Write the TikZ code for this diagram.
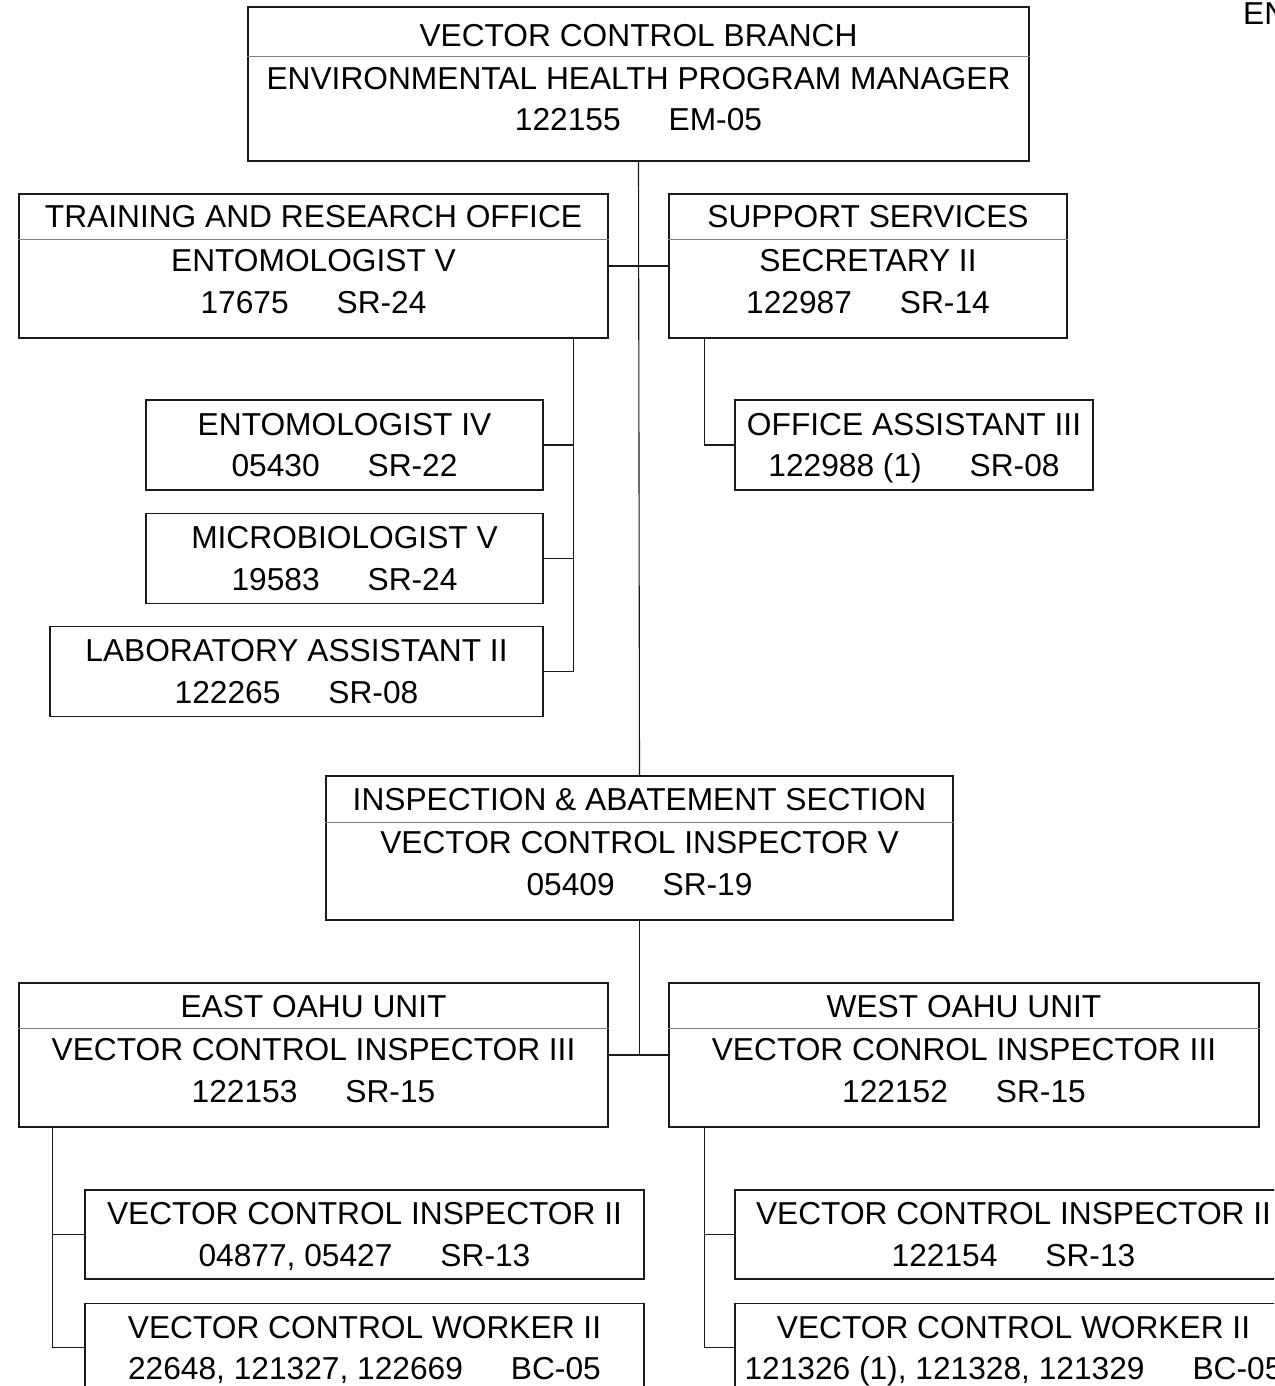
\documentclass[tikz,border=0pt]{standalone}
\usepackage{fontspec}
\setmainfont{Liberation Sans}
\usepackage{xcolor}
\definecolor{vcline}{HTML}{1A1A1A}
\definecolor{vcrule}{HTML}{808080}
\usetikzlibrary{positioning,calc}
\tikzset{
  vcbox/.style={draw=vcline,line width=1.1pt,inner sep=0pt},
  vctext/.style={font=\fontsize{31.7}{41.5}\selectfont,align=center,anchor=base,inner sep=0pt},
  vclink/.style={draw=vcline,line width=1.1pt},
  vcsplit/.style={draw=vcrule,line width=1.1pt},
}
\newcommand{\vcgap}{\hspace{48pt}}

\begin{document}
\begin{tikzpicture}[x=1pt,y=-1pt]
\useasboundingbox (0,0) rectangle (1274,1386);
\clip (0,0) rectangle (1274,1386);
% branch head
\node[vcbox,minimum width=781pt,minimum height=154pt] (vcb) at (638.5,84) {};
\draw[vcsplit] ($(vcb.north west)+(0,50)$) -- ($(vcb.north east)+(0,50)$);
\node[vctext] (vcbT) at ($(vcb.north)+(0,40)$) {VECTOR CONTROL BRANCH};
\node[vctext] (vcbB) at ($(vcb.north)+(0,124.5)$) {ENVIRONMENTAL HEALTH PROGRAM MANAGER\\122155\vcgap EM-05};
\node[vctext,anchor=base west] (edge) at (1243,25) {EN};

% training and research
\node[vcbox,minimum width=589pt,minimum height=144pt] (tro) at (313.5,266) {};
\draw[vcsplit] ($(tro.north west)+(0,46)$) -- ($(tro.north east)+(0,46)$);
\node[vctext] (troT) at ($(tro.north)+(0,34)$) {TRAINING AND RESEARCH OFFICE};
\node[vctext] (troB) at ($(tro.north)+(0,120)$) {ENTOMOLOGIST V\\17675\vcgap SR-24};

% support services
\node[vcbox,minimum width=398pt,minimum height=144pt] (sup) at (868,266) {};
\draw[vcsplit] ($(sup.north west)+(0,46)$) -- ($(sup.north east)+(0,46)$);
\node[vctext] (supT) at ($(sup.north)+(0,34)$) {SUPPORT SERVICES};
\node[vctext] (supB) at ($(sup.north)+(0,120)$) {SECRETARY II\\122987\vcgap SR-14};

\node[vcbox,minimum width=358pt,minimum height=90pt] (oa3) at (914,445) {};
\node[vctext] (oa3T) at ($(oa3.north)+(0,77.5)$) {OFFICE ASSISTANT III\\122988 (1)\vcgap SR-08};

% lab staff
\node[vcbox,minimum width=397pt,minimum height=90pt] (ent4) at (344.5,445) {};
\node[vctext] (ent4T) at ($(ent4.north)+(0,77.5)$) {ENTOMOLOGIST IV\\05430\vcgap SR-22};
\node[vcbox,minimum width=397pt,minimum height=90pt,below=22pt of ent4] (mic5) {};
\node[vctext] (mic5T) at ($(mic5.north)+(0,77.5)$) {MICROBIOLOGIST V\\19583\vcgap SR-24};
\node[vcbox,minimum width=493pt,minimum height=90pt,below=22pt of mic5.south east,anchor=north east] (lab2) {};
\node[vctext] (lab2T) at ($(lab2.north)+(0,77.5)$) {LABORATORY ASSISTANT II\\122265\vcgap SR-08};

% inspection
\node[vcbox,minimum width=627pt,minimum height=144pt] (ias) at (639.5,848) {};
\draw[vcsplit] ($(ias.north west)+(0,47)$) -- ($(ias.north east)+(0,47)$);
\node[vctext] (iasT) at ($(ias.north)+(0,35)$) {INSPECTION \& ABATEMENT SECTION};
\node[vctext] (iasB) at ($(ias.north)+(0,120)$) {VECTOR CONTROL INSPECTOR V\\05409\vcgap SR-19};

% units
\node[vcbox,minimum width=589pt,minimum height=144pt] (east) at (313.5,1055) {};
\draw[vcsplit] ($(east.north west)+(0,46)$) -- ($(east.north east)+(0,46)$);
\node[vctext] (eastT) at ($(east.north)+(0,35)$) {EAST OAHU UNIT};
\node[vctext] (eastB) at ($(east.north)+(0,120)$) {VECTOR CONTROL INSPECTOR III\\122153\vcgap SR-15};

\node[vcbox,minimum width=590pt,minimum height=144pt] (west) at (964,1055) {};
\draw[vcsplit] ($(west.north west)+(0,46)$) -- ($(west.north east)+(0,46)$);
\node[vctext] (westT) at ($(west.north)+(0,35)$) {WEST OAHU UNIT};
\node[vctext] (westB) at ($(west.north)+(0,120)$) {VECTOR CONROL INSPECTOR III\\122152\vcgap SR-15};

\node[vcbox,minimum width=559pt,minimum height=89pt] (vci2e) at (364.5,1234.5) {};
\node[vctext] (vci2eT) at ($(vci2e.north)+(0,77)$) {VECTOR CONTROL INSPECTOR II\\04877, 05427\vcgap SR-13};
\node[vcbox,minimum width=559pt,minimum height=89pt,below=23pt of vci2e] (vcw2e) {};
\node[vctext] (vcw2eT) at ($(vcw2e.north)+(0,77)$) {VECTOR CONTROL WORKER II\\22648, 121327, 122669\vcgap BC-05};

\node[vcbox,minimum width=557pt,minimum height=89pt] (vci2w) at (1013.5,1234.5) {};
\node[vctext] (vci2wT) at ($(vci2w.north)+(0,77)$) {VECTOR CONTROL INSPECTOR II\\122154\vcgap SR-13};
\node[vcbox,minimum width=557pt,minimum height=89pt,below=23pt of vci2w] (vcw2w) {};
\node[vctext] (vcw2wT) at ($(vcw2w.north)+(0,77)$) {VECTOR CONTROL WORKER II\\121326 (1), 121328, 121329\vcgap BC-05};

% reporting lines
\draw[vclink] (vcb.south) -- (ias.north);
\draw[vclink] (tro.east) -- (sup.west);
\coordinate (tbus) at ($(tro.south east)+(-35,0)$);
\draw[vclink] (tbus) |- (lab2.east);
\draw[vclink] (ent4.east) -- (ent4.east -| tbus);
\draw[vclink] (mic5.east) -- (mic5.east -| tbus);
\draw[vclink] ($(sup.south west)+(36,0)$) |- (oa3.west);
\draw[vclink] (ias.south) -- (ias.south |- east.east);
\draw[vclink] (east.east) -- (west.west);
\coordinate (ebus) at ($(east.south west)+(34,0)$);
\draw[vclink] (ebus) |- (vcw2e.west);
\draw[vclink] (vci2e.west) -- (vci2e.west -| ebus);
\coordinate (wbus) at ($(west.south west)+(36,0)$);
\draw[vclink] (wbus) |- (vcw2w.west);
\draw[vclink] (vci2w.west) -- (vci2w.west -| wbus);
\end{tikzpicture}
\end{document}
